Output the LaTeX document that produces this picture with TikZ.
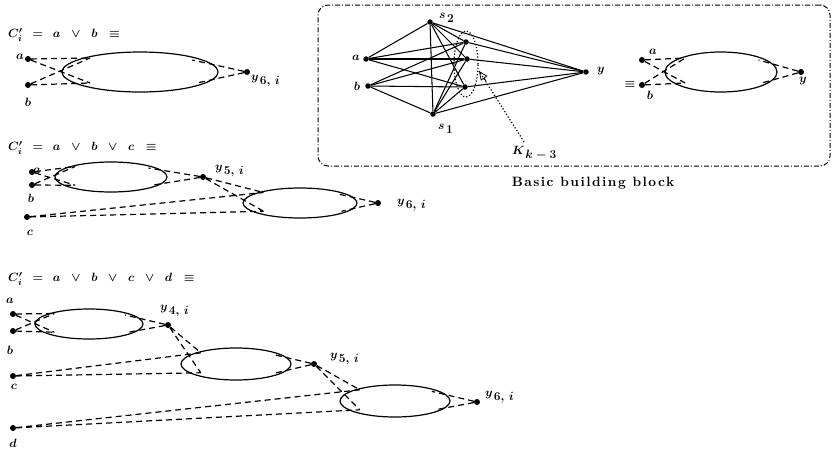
\documentclass[tikz,border=0pt]{standalone}
\usepackage{fontspec}
\newfontfamily\bbfont[LetterSpace=11]{lmroman10-bold.otf}
\usetikzlibrary{arrows.meta,shapes.geometric}
\newcommand\mkblk[5]{%
  \node[blkell, minimum width={2*#4}, minimum height={2*#5}] (#1) at (#2,#3) {};
  \path (#2,#3) ++({-0.64*#4},{-0.7*#5}) coordinate (#1u)
        (#2,#3) ++({-0.64*#4},{0.55*#5}) coordinate (#1l)
        (#2,#3) ++({0.67*#4},{-0.6*#5}) coordinate (#1r)
        (#2,#3) ++({0.73*#4},{0.55*#5}) coordinate (#1s);}
\newcommand\ylab[2]{$#1_{\textstyle\mkern2mu #2}$}
\begin{document}
\begin{tikzpicture}[x=1pt,y=-1pt,
  dot/.style={circle,fill,inner sep=0pt,minimum size=6pt},
  gdot/.style={circle,fill,inner sep=0pt,minimum size=5.5pt},
  dsh/.style={line width=1.2pt,dash pattern=on 6pt off 4pt},
  blkell/.style={ellipse,draw,line width=1.2pt,inner sep=0pt},
  gline/.style={line width=1.05pt},
  lab/.style={inner sep=0pt,font=\fontsize{12.5}{14}\selectfont\boldmath},
  hdr/.style={inner sep=0pt,anchor=west,font=\fontsize{13}{15}\selectfont\boldmath},
  frame/.style={draw,line width=1pt,rounded corners=10pt,dash pattern=on 5pt off 2pt on 1pt off 2pt}]
\useasboundingbox (0,0) rectangle (832,450);

% ---------- panel 1 ----------
\node[hdr] (h1) at (8,35) {$C'_i\;\,=\;\,a\;\;\vee\;\;b\;\;\equiv$};
\node[dot] (p1a) at (28,59) {};
\node[lab] at (20,57) {$a$};
\node[dot] (p1b) at (28,85) {};
\node[lab] at (28,102) {$b$};
\mkblk{P1E}{140}{72}{78}{20}
\node[dot] (p1y) at (247,72) {};
\node[lab,anchor=west] at (251,81) {\ylab{y}{6,\,i}};
\draw[dsh] (p1a) -- (P1Eu) (p1a) -- (P1El) (p1b) -- (P1Eu) (p1b) -- (P1El)
           (p1y) -- (P1Er) (p1y) -- (P1Es);

% ---------- panel 2 ----------
\node[hdr] (h2) at (8,148) {$C'_i\;\,=\;\,a\;\;\vee\;\;b\;\;\vee\;\;c\;\;\equiv$};
\node[dot] (p2a) at (32,172) {};
\node[lab] at (37,171) {$a$};
\node[dot] (p2b) at (32,185) {};
\node[lab] at (31,198) {$b$};
\mkblk{P2E}{111}{177}{56}{15}
\node[dot] (p2y5) at (203,177) {};
\node[lab,anchor=west] at (215,171) {\ylab{y}{5,\,i}};
\node[dot] (p2c) at (27,217) {};
\node[lab] at (30,233) {$c$};
\mkblk{P2F}{300}{203}{57}{15}
\node[dot] (p2y6) at (378,203) {};
\node[lab,anchor=west] at (397,205) {\ylab{y}{6,\,i}};
\draw[dsh] (p2a) -- (P2Eu) (p2a) -- (P2El) (p2b) -- (P2Eu) (p2b) -- (P2El)
           (p2y5) -- (P2Er) (p2y5) -- (P2Es)
           (p2y5) -- (P2Fu) (p2y5) -- (P2Fl) (p2c) -- (P2Fu) (p2c) -- (P2Fl)
           (p2y6) -- (P2Fr) (p2y6) -- (P2Fs);

% ---------- panel 3 ----------
\node[hdr] (h3) at (8,279) {$C'_i\;\,=\;\,a\;\;\vee\;\;b\;\;\vee\;\;c\;\;\vee\;\;d\;\;\equiv$};
\node[dot] (p3a) at (13,314) {};
\node[lab] at (10,301) {$a$};
\node[dot] (p3b) at (13,331) {};
\node[lab] at (10,350) {$b$};
\mkblk{P3E}{89}{324}{54}{15}
\node[dot] (p3y4) at (168,325) {};
\node[lab,anchor=west] at (160,311) {\ylab{y}{4,\,i}};
\node[dot] (p3c) at (13,376) {};
\node[lab] at (14,387) {$c$};
\mkblk{P3F}{236}{364}{55}{16}
\node[dot] (p3y5) at (314,364) {};
\node[lab,anchor=west] at (330,359) {\ylab{y}{5,\,i}};
\node[dot] (p3d) at (13,428) {};
\node[lab] at (13,443) {$d$};
\mkblk{P3G}{395}{401}{55}{16}
\node[dot] (p3y6) at (477,402) {};
\node[lab,anchor=west] at (485,397) {\ylab{y}{6,\,i}};
\draw[dsh] (p3a) -- (P3Eu) (p3a) -- (P3El) (p3b) -- (P3Eu) (p3b) -- (P3El)
           (p3y4) -- (P3Er) (p3y4) -- (P3Es)
           (p3y4) -- (P3Fu) (p3y4) -- (P3Fl) (p3c) -- (P3Fu) (p3c) -- (P3Fl)
           (p3y5) -- (P3Fr) (p3y5) -- (P3Fs)
           (p3y5) -- (P3Gu) (p3y5) -- (P3Gl) (p3d) -- (P3Gu) (p3d) -- (P3Gl)
           (p3y6) -- (P3Gr) (p3y6) -- (P3Gs);

% ---------- basic building block ----------
\node[frame,minimum width=512,minimum height=161,inner sep=0pt] (box) at (574,85.5) {};
\node[inner sep=0pt,font=\bbfont\fontsize{13.5}{15}\selectfont] (bbb) at (593,183) {Basic building block};

\node[gdot] (ga) at (366,59) {};
\node[gdot] (gb) at (368,86) {};
\node[gdot] (gs2) at (430,22) {};
\node[gdot] (gs1) at (433,114) {};
\node[gdot] (gk1) at (466,42) {};
\node[gdot] (gk2) at (467,59) {};
\node[gdot] (gk3) at (465,87) {};
\node[gdot] (gy) at (586,72) {};
\node[lab] at (356,58) {$a$};
\node[lab] at (357,86) {$b$};
\node[lab,anchor=west] at (439,18) {\ylab{s}{2}};
\node[lab,anchor=west] at (438,129) {\ylab{s}{1}};
\node[lab] at (601,71) {$y$};
\foreach \u/\v in {ga/gs2,ga/gk1,ga/gk2,ga/gk3,gb/gk1,gb/gk2,gb/gk3,gb/gs1,
  gs2/gs1,gs2/gk1,gs2/gk2,gs2/gk3,gs1/gk1,gs1/gk2,gs1/gk3,
  gs2/gy,gs1/gy,gk1/gy,gk2/gy,gk3/gy}
  \draw[gline] (\u) -- (\v);
\node[ellipse,draw,dotted,line width=1.2pt,minimum width=24,minimum height=66] (kell) at (466,64) {};
\node[lab,anchor=west] (klab) at (512,153) {\ylab{K}{k-3}};
\coordinate (kp) at (479,71);
\draw[dotted,line width=1.2pt] (klab.north west) ++(12,-4) coordinate (kq) (kq) -- (kp);
\draw[line width=0.8pt,-{Triangle[open,length=9pt,width=8pt]}] (486,81) -- (kp);

\node[lab] at (630,84) {$\equiv$};
\node[dot] (ra) at (642,60) {};
\node[lab] at (653,52) {$a$};
\node[dot] (rb) at (642,85) {};
\node[lab] at (650,95) {$b$};
\mkblk{RE}{721}{72}{56}{20}
\node[dot] (ry) at (801,72) {};
\node[lab] at (803,81) {$y$};
\draw[dsh] (ra) -- (REu) (ra) -- (REl) (rb) -- (REu) (rb) -- (REl)
           (ry) -- (REr) (ry) -- (REs);
\end{tikzpicture}
\end{document}
